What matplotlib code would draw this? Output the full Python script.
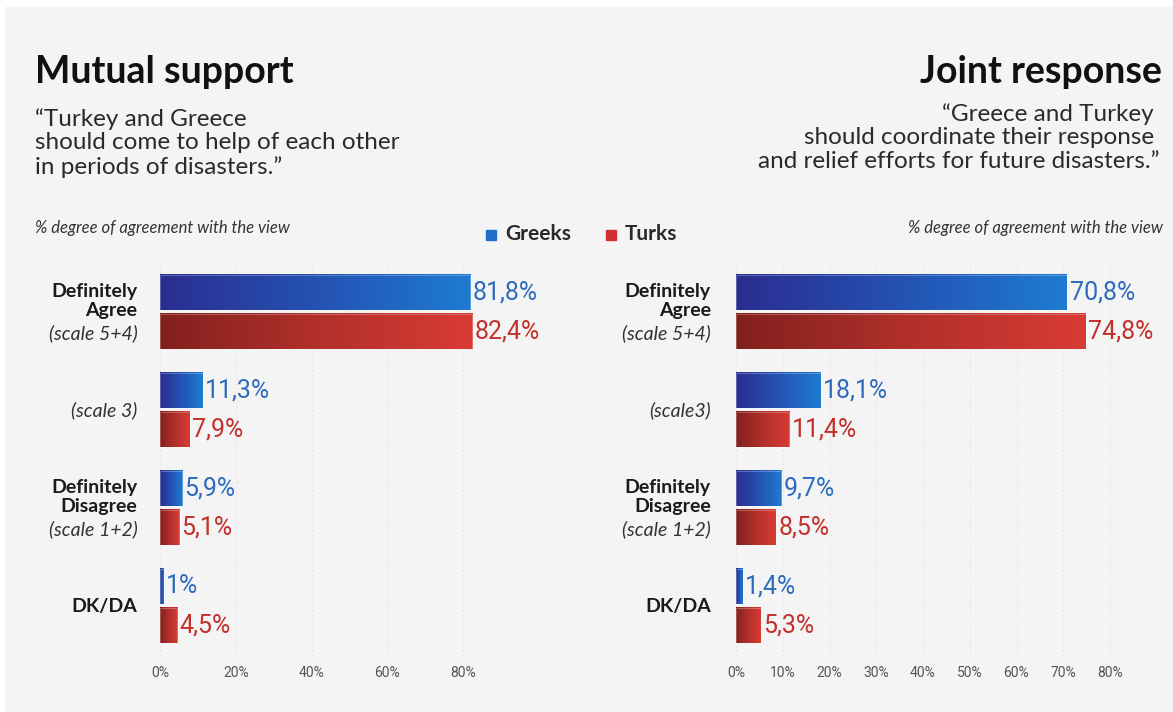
import numpy as np
import matplotlib.pyplot as plt
from matplotlib.colors import LinearSegmentedColormap
from matplotlib.patches import Rectangle

# Survey answers, % of respondents
categories = ["Definitely\nAgree", "(scale 3)", "Definitely\nDisagree", "DK/DA"]
sublabels_left = ["(scale 5+4)", "", "(scale 1+2)", ""]
right_categories = ["Definitely\nAgree", "(scale3)", "Definitely\nDisagree", "DK/DA"]
sublabels_right = ["(scale 5+4)", "", "(scale 1+2)", ""]

support_greeks = [81.8, 11.3, 5.9, 1.0]
support_turks = [82.4, 7.9, 5.1, 4.5]
response_greeks = [70.8, 18.1, 9.7, 1.4]
response_turks = [74.8, 11.4, 8.5, 5.3]

left_ticks = [0, 20, 40, 60, 80]
right_ticks = [0, 10, 20, 30, 40, 50, 60, 70, 80]

BG = "#f4f4f4"
BLUE_TXT = "#2f6bbd"
RED_TXT = "#c3302c"
blue_cmap = LinearSegmentedColormap.from_list("blue", ["#2b2d90", "#2452b3", "#1e7cd0"])
red_cmap = LinearSegmentedColormap.from_list("red", ["#82201d", "#b2302b", "#d83b34"])

SANS = ["Lato", "Open Sans", "DejaVu Sans"]
NARROW = ["Liberation Sans Narrow", "Roboto", "DejaVu Sans"]

W, H = 1173, 712
fig = plt.figure(figsize=(W / 100, H / 100), dpi=100)
fig.patch.set_facecolor("white")
fig.patches.append(Rectangle((5 / W, 0), 1 - 5 / W, 1 - 7 / H,
                             transform=fig.transFigure, color=BG, zorder=-10))


def px_axes(x0, x1, y0, y1):
    # axes placed by pixel box (y measured from top)
    return fig.add_axes([x0 / W, 1 - y1 / H, (x1 - x0) / W, (y1 - y0) / H])


def gradient_bar(ax, x, y, h, cmap):
    grad = np.linspace(0, 1, 256).reshape(1, -1)
    ax.imshow(grad, cmap=cmap, aspect="auto", extent=(0, x, y + h / 2, y - h / 2),
              interpolation="bicubic", zorder=3)
    ax.add_patch(Rectangle((0, y - h / 2), x, h, fill=False, edgecolor="#ffffff",
                           linewidth=0.6, alpha=0.3, zorder=4))


def panel(ax, greeks, turks, ticks, labels, sublabels, label_x):
    ax.set_facecolor("none")
    n = len(greeks)
    h = 0.36
    for i in range(n):
        gradient_bar(ax, greeks[i], i - 0.2, h, blue_cmap)
        gradient_bar(ax, turks[i], i + 0.2, h, red_cmap)
        ax.text(greeks[i] + 0.6, i - 0.2, f"{greeks[i]:g}%".replace(".", ","),
                color=BLUE_TXT, fontsize=18, va="center", ha="left",
                family=NARROW, clip_on=False)
        ax.text(turks[i] + 0.6, i + 0.2, f"{turks[i]:g}%".replace(".", ","),
                color=RED_TXT, fontsize=18, va="center", ha="left",
                family=NARROW, clip_on=False)
        # category labels: bold name plus italic scale note
        name = labels[i]
        sub = sublabels[i]
        tr = ax.get_yaxis_transform()
        if name.startswith("("):
            ax.text(label_x, i, name, ha="right", va="center", fontsize=14,
                    style="italic", color="#333333", family=SANS,
                    transform=tr, clip_on=False)
        elif sub:
            ax.text(label_x, i + 0.07, name, ha="right", va="bottom", fontsize=14,
                    fontweight="bold", color="#1a1a1a", family=SANS, linespacing=1.15,
                    transform=tr, clip_on=False)
            ax.text(label_x, i + 0.12, sub, ha="right", va="top", fontsize=14,
                    style="italic", color="#333333", family=SANS,
                    transform=tr, clip_on=False)
        else:
            ax.text(label_x, i, name, ha="right", va="center", fontsize=14,
                    fontweight="bold", color="#1a1a1a", family=SANS,
                    transform=tr, clip_on=False)

    ax.set_ylim(3.55, -0.5)
    ax.set_xticks(ticks)
    ax.set_xticklabels([f"{t}%" for t in ticks], family=NARROW, fontsize=10,
                       color="#555555")
    ax.tick_params(axis="x", length=0, pad=4)
    ax.set_yticks([])
    ax.grid(axis="x", color="#dcdcdc", linestyle=(0, (1, 3)), linewidth=0.8, zorder=0)
    ax.set_axisbelow(True)
    for s in ax.spines.values():
        s.set_visible(False)


# left panel: 0% at x=160, 1% = 3.79 px
ax1 = px_axes(160, 160 + 100 * 3.79, 263, 660)
ax1.set_xlim(0, 100)
panel(ax1, support_greeks, support_turks, left_ticks, categories,
      sublabels_left, -0.06)

# right panel: 0% at x=736, 1% = 4.675 px
ax2 = px_axes(736, 736 + 90 * 4.675, 263, 660)
ax2.set_xlim(0, 90)
panel(ax2, response_greeks, response_turks, right_ticks, right_categories,
      sublabels_right, -0.06)

# titles and quotes
fig.text(35 / W, 1 - 72 / H, "Mutual support", fontsize=27, fontweight="bold",
         color="#111111", family=SANS, va="center", ha="left")
fig.text(35 / W, 1 - 108 / H,
         "\u201cTurkey and Greece\nshould come to help of each other\nin periods of disasters.\u201d",
         fontsize=17.5, color="#2a2a2a", family=SANS, va="top", ha="left", linespacing=1.14)
fig.text(1162 / W, 1 - 72 / H, "Joint response", fontsize=27, fontweight="bold",
         color="#111111", family=SANS, va="center", ha="right")
fig.text(1160 / W, 1 - 103 / H,
         "\u201cGreece and Turkey \nshould coordinate their response \nand relief efforts for future disasters.\u201d",
         fontsize=17.5, color="#2a2a2a", family=SANS, va="top", ha="right",
         multialignment="right", linespacing=1.14)

fig.text(35 / W, 1 - 228 / H, "% degree of agreement with the view", fontsize=12,
         style="italic", color="#333333", family=SANS, va="center", ha="left")
fig.text(1163 / W, 1 - 228 / H, "% degree of agreement with the view", fontsize=12,
         style="italic", color="#333333", family=SANS, va="center", ha="right")

# legend
fig.patches.append(Rectangle((486 / W, 1 - 240 / H), 10 / W, 10 / H,
                             transform=fig.transFigure, color="#1f6fc8"))
fig.text(505 / W, 1 - 234 / H, "Greeks", fontsize=15, fontweight="bold",
         color="#2a2a2a", family=SANS, va="center", ha="left")
fig.patches.append(Rectangle((606 / W, 1 - 240 / H), 10 / W, 10 / H,
                             transform=fig.transFigure, color="#d0302f"))
fig.text(625 / W, 1 - 234 / H, "Turks", fontsize=15, fontweight="bold",
         color="#2a2a2a", family=SANS, va="center", ha="left")

fig.savefig("out.png", dpi=100, facecolor=fig.get_facecolor())
